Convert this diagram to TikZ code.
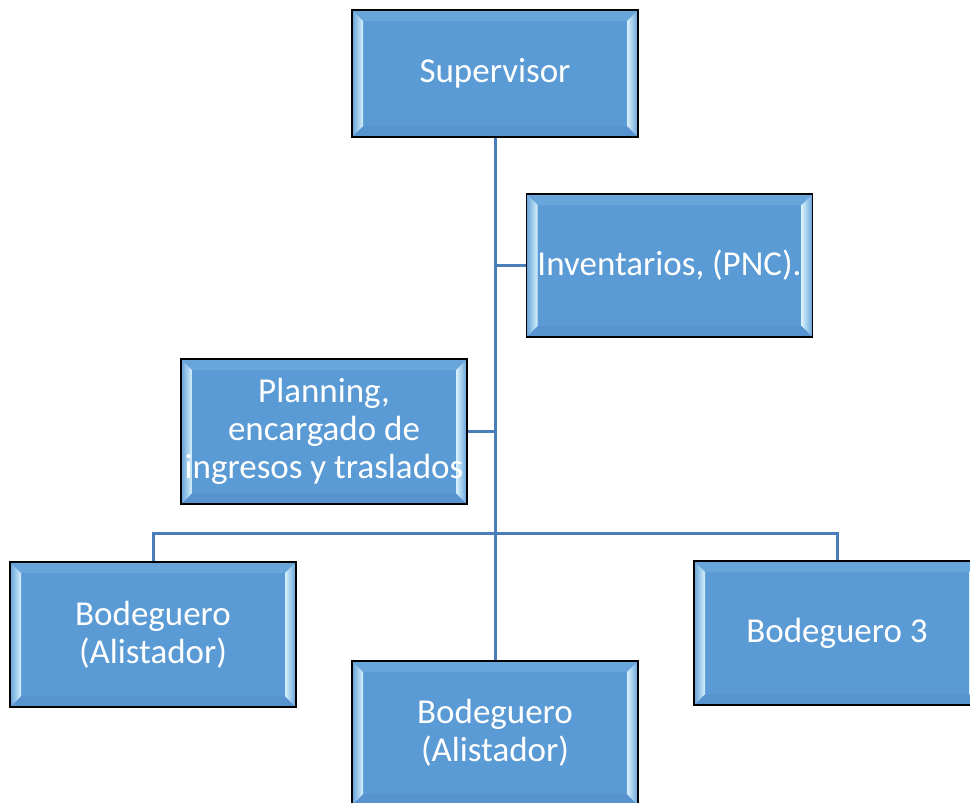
\documentclass[tikz,border=0pt]{standalone}
\usepackage{fontspec}
\setmainfont{Carlito}
\definecolor{boxblue}{HTML}{5B9BD5}
\definecolor{bevlight}{HTML}{D8F1FC}
\definecolor{bevmid}{HTML}{64A2D9}
\definecolor{bevtop}{HTML}{68A5DB}
\definecolor{bevbot}{HTML}{5794CF}
\definecolor{conncol}{HTML}{4A7EBB}
\tikzset{
  bevelbox/.style={draw=black, line width=1.5pt, fill=boxblue, minimum width=286pt,
    text=white, font=\fontsize{35}{38}\selectfont, align=center, inner sep=0pt,
    path picture={
      \coordinate (nw) at (path picture bounding box.north west);
      \coordinate (ne) at (path picture bounding box.north east);
      \coordinate (sw) at (path picture bounding box.south west);
      \coordinate (se) at (path picture bounding box.south east);
      \fill[bevtop] (nw) -- ([shift={(11pt,-11pt)}]nw) -- ([shift={(-11pt,-11pt)}]ne) -- (ne) -- cycle;
      \fill[bevbot] (sw) -- ([shift={(11pt,11pt)}]sw) -- ([shift={(-11pt,11pt)}]se) -- (se) -- cycle;
      \fill[left color=bevmid, right color=bevlight] (nw) -- ([shift={(11pt,-11pt)}]nw) -- ([shift={(11pt,11pt)}]sw) -- (sw) -- cycle;
      \fill[right color=bevmid, left color=bevlight] (ne) -- ([shift={(-11pt,-11pt)}]ne) -- ([shift={(-11pt,11pt)}]se) -- (se) -- cycle;
    }},
  conn/.style={draw=conncol, line width=3pt}
}
\begin{document}
\begin{tikzpicture}[x=1pt,y=-1pt]
\useasboundingbox (0,0) rectangle (970,803);
\node[bevelbox, minimum height=127pt] (sup) at (495,73.5) {Supervisor};
\node[bevelbox, minimum height=143pt] (inv) at (669.5,265.5) {Inventarios, (PNC).};
\node[bevelbox, minimum height=145pt] (plan) at (324,431.5) {Planning,\\encargado de\\ingresos y traslados};
\node[bevelbox, minimum height=145pt] (bl) at (153,634.5) {Bodeguero\\(Alistador)};
\node[bevelbox, minimum height=144pt] (bm) at (495,733) {Bodeguero\\(Alistador)};
\node[bevelbox, minimum height=144pt] (br) at (837,633) {Bodeguero 3};
\coordinate (bus) at (495,533);
\draw[conn] (sup.south) -- (bm.north);
\draw[conn] (inv.west) -- (inv.west -| sup.south);
\draw[conn] (plan.east) -- (plan.east -| sup.south);
\draw[conn] (bl.north) -- (bl.north |- bus) -- (br.north |- bus) -- (br.north);
\end{tikzpicture}
\end{document}
